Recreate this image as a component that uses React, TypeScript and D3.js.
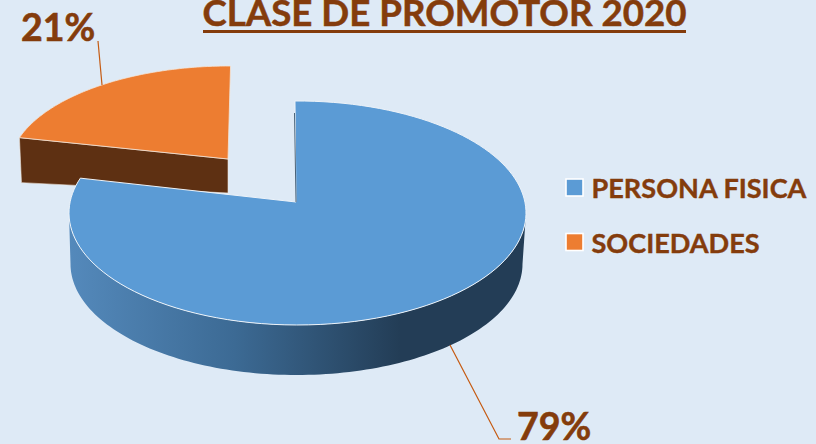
import React from 'react';
import * as d3 from 'd3';

const categories = ['PERSONA FISICA', 'SOCIEDADES'];
const shares = [79, 21];
const sliceColors = ['#5b9bd5', '#ed7d31'];
const title = 'CLASE DE PROMOTOR 2020';

const width = 816;
const height = 444;
const FONT = 'Lato, Carlito, sans-serif';
const TEXT = '#843c0c';
const LEADER = '#c55a11';

// tilted ellipses, the apex sits above the ellipse centre because of the perspective
// k flattens the slice edges a bit, lean tips the 12 o'clock edge
const blue = { ax: 296, ay: 202, cx: 297.5, cy: 213, rx: 228.5, ry: 112, k: 0.88, lean: -1, bx: 296.5, by: 264, brx: 226, bry: 111 };
const orange = { ax: 228, ay: 159, cx: 229, cy: 169, rx: 220, ry: 103, k: 0.85, lean: 2.4 };

type Geo = { ax: number; ay: number; cx: number; cy: number; rx: number; ry: number; k: number; lean: number };

// where the ray from the apex at pie angle a meets the ellipse
const rimPoint = (g: Geo, a: number): [number, number] => {
  const dx = Math.sin(a) * g.rx + Math.cos(a) * g.lean;
  const dy = -Math.cos(a) * g.ry * g.k;
  const ox = (g.ax - g.cx) / g.rx;
  const oy = (g.ay - g.cy) / g.ry;
  const ux = dx / g.rx;
  const uy = dy / g.ry;
  const A = ux * ux + uy * uy;
  const B = 2 * (ox * ux + oy * uy);
  const C = ox * ox + oy * oy - 1;
  const t = (-B + Math.sqrt(B * B - 4 * A * C)) / (2 * A);
  return [g.ax + dx * t, g.ay + dy * t];
};

const line = d3.line<[number, number]>();

const sectorPath = (g: Geo, a0: number, a1: number) => {
  const steps = d3.range(0, 121).map(i => a0 + ((a1 - a0) * i) / 120);
  return line([[g.ax, g.ay], ...steps.map(a => rimPoint(g, a))]) + 'Z';
};

const ell = (cx: number, cy: number, rx: number, ry: number, t: number): [number, number] => [
  cx + rx * Math.sin(t),
  cy - ry * Math.cos(t),
];

const App = () => {
  const arcs = d3.pie<number>().sort(null)(shares);
  const [mainArc, smallArc] = arcs;

  const ts = d3.range(0, 121).map(i => Math.PI / 2 + (Math.PI * i) / 120);
  const wallPath =
    line([
      ...ts.map(t => ell(blue.cx, blue.cy, blue.rx, blue.ry, t)),
      ...ts.slice().reverse().map(t => ell(blue.bx, blue.by, blue.brx, blue.bry, t)),
    ]) + 'Z';

  const cornerTop = rimPoint(orange, smallArc.startAngle);
  const brownWall = line([
    [orange.ax, orange.ay],
    cornerTop,
    [cornerTop[0] + 2, cornerTop[1] + 45],
    [orange.ax, orange.ay + 34],
  ]) + 'Z';

  return (
    <svg width={width} height={height} style={{ position: 'fixed', left: 0, top: 0 }}>
      <defs>
        <linearGradient id="wall" gradientUnits="userSpaceOnUse" x1={70} x2={400} y1={0} y2={0}>
          <stop offset={0} stopColor="#5489bb" />
          <stop offset={0.5} stopColor="#3c6a94" />
          <stop offset={1} stopColor="#233d56" />
        </linearGradient>
      </defs>
      <rect width={width} height={height} fill="#deeaf6" />

      <text x={444.5} y={26} textAnchor="middle" fontFamily={FONT} fontWeight={700} fontSize={36.7} fill={TEXT} stroke={TEXT} strokeWidth={0.5}>
        {title}
      </text>
      <rect x={203} y={30} width={483} height={3} fill={TEXT} />

      {/* orange slice, pulled out */}
      <path d={brownWall} fill="#5e3012" stroke="#efe6dc" strokeWidth={0.6} />
      <path d={sectorPath(orange, smallArc.startAngle, smallArc.endAngle)} fill={sliceColors[1]} stroke="#f3e6da" strokeWidth={0.8} />
      <line x1={98} y1={41} x2={102} y2={85} stroke={LEADER} strokeWidth={1.2} />

      {/* blue slice */}
      <path d={wallPath} fill="url(#wall)" />
      <path d={sectorPath(blue, mainArc.startAngle, mainArc.endAngle)} fill={sliceColors[0]} stroke="#edf3f9" strokeWidth={1} />
      <line x1={294.5} y1={113} x2={296} y2={202} stroke="#4a6378" strokeWidth={1} />
      <polyline points="450,345 499,439 511,439" fill="none" stroke={LEADER} strokeWidth={1.2} />

      {/* data labels */}
      <text x={21} y={41} fontFamily={FONT} fontWeight={700} fontSize={37.5} fill={TEXT} stroke={TEXT} strokeWidth={0.6}>
        {`${shares[1]}%`}
      </text>
      <text x={517} y={440} fontFamily={FONT} fontWeight={700} fontSize={37.5} fill={TEXT} stroke={TEXT} strokeWidth={0.6}>
        {`${shares[0]}%`}
      </text>

      {/* legend */}
      {categories.map((c, i) => (
        <g key={c} transform={`translate(566,${179 + i * 54.5})`}>
          <rect x={0} y={0} width={17} height={17} fill={sliceColors[i]} stroke="#fff" strokeWidth={1.6} />
          <text x={25.5} y={19} fontFamily={FONT} fontWeight={700} fontSize={27.1} fill={TEXT} stroke={TEXT} strokeWidth={0.4}>
            {c}
          </text>
        </g>
      ))}
    </svg>
  );
};

export default App;
